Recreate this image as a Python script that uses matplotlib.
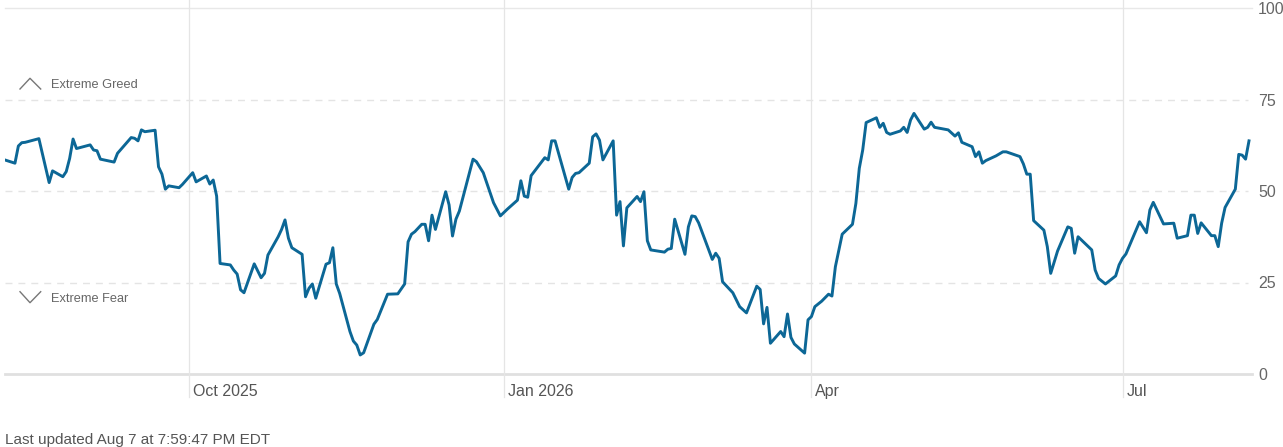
import numpy as np
import matplotlib.pyplot as plt
import matplotlib.dates as mdates
import matplotlib.transforms as mtransforms
from matplotlib.lines import Line2D
import datetime as dt

plt.rcParams['font.family'] = ['Liberation Sans', 'DejaVu Sans']

# Fear & Greed index (trading days, approx.)
dates = [
    '2025-08-08', '2025-08-11', '2025-08-12', '2025-08-13', '2025-08-14', '2025-08-18',
    '2025-08-21', '2025-08-22', '2025-08-25', '2025-08-26', '2025-08-27', '2025-08-28',
    '2025-08-29', '2025-09-02', '2025-09-03', '2025-09-04', '2025-09-05', '2025-09-09',
    '2025-09-10', '2025-09-14', '2025-09-15', '2025-09-16', '2025-09-17', '2025-09-18',
    '2025-09-21', '2025-09-22', '2025-09-23', '2025-09-24', '2025-09-25', '2025-09-28',
    '2025-09-29', '2025-10-02', '2025-10-03', '2025-10-06', '2025-10-07', '2025-10-08',
    '2025-10-09', '2025-10-10', '2025-10-13', '2025-10-14', '2025-10-15', '2025-10-16',
    '2025-10-17', '2025-10-20', '2025-10-22', '2025-10-23', '2025-10-24', '2025-10-27',
    '2025-10-28', '2025-10-29', '2025-10-30', '2025-10-31', '2025-11-03', '2025-11-04',
    '2025-11-05', '2025-11-06', '2025-11-07', '2025-11-10', '2025-11-11', '2025-11-12',
    '2025-11-13', '2025-11-14', '2025-11-17', '2025-11-18', '2025-11-19', '2025-11-20',
    '2025-11-21', '2025-11-24', '2025-11-25', '2025-11-28', '2025-12-01', '2025-12-03',
    '2025-12-04', '2025-12-05', '2025-12-06', '2025-12-08', '2025-12-09', '2025-12-10',
    '2025-12-11', '2025-12-12', '2025-12-15', '2025-12-16', '2025-12-17', '2025-12-18',
    '2025-12-19', '2025-12-23', '2025-12-24', '2025-12-26', '2025-12-29', '2025-12-31',
    '2026-01-02', '2026-01-05', '2026-01-06', '2026-01-07', '2026-01-08', '2026-01-09',
    '2026-01-13', '2026-01-14', '2026-01-15', '2026-01-16', '2026-01-20', '2026-01-21',
    '2026-01-22', '2026-01-23', '2026-01-26', '2026-01-27', '2026-01-28', '2026-01-29',
    '2026-01-30', '2026-02-02', '2026-02-03', '2026-02-04', '2026-02-05', '2026-02-06',
    '2026-02-09', '2026-02-10', '2026-02-11', '2026-02-12', '2026-02-13', '2026-02-17',
    '2026-02-18', '2026-02-19', '2026-02-20', '2026-02-23', '2026-02-24', '2026-02-25',
    '2026-02-26', '2026-02-27', '2026-03-03', '2026-03-04', '2026-03-05', '2026-03-06',
    '2026-03-09', '2026-03-11', '2026-03-13', '2026-03-16', '2026-03-17', '2026-03-18',
    '2026-03-19', '2026-03-20', '2026-03-23', '2026-03-24', '2026-03-25', '2026-03-26',
    '2026-03-27', '2026-03-30', '2026-03-31', '2026-04-01', '2026-04-02', '2026-04-04',
    '2026-04-06', '2026-04-07', '2026-04-08', '2026-04-10', '2026-04-13', '2026-04-14',
    '2026-04-15', '2026-04-16', '2026-04-17', '2026-04-20', '2026-04-21', '2026-04-22',
    '2026-04-23', '2026-04-24', '2026-04-27', '2026-04-28', '2026-04-29', '2026-04-30',
    '2026-05-01', '2026-05-04', '2026-05-05', '2026-05-06', '2026-05-07', '2026-05-11',
    '2026-05-13', '2026-05-14', '2026-05-15', '2026-05-18', '2026-05-19', '2026-05-20',
    '2026-05-21', '2026-05-22', '2026-05-25', '2026-05-27', '2026-05-28', '2026-06-01',
    '2026-06-02', '2026-06-03', '2026-06-04', '2026-06-05', '2026-06-08', '2026-06-09',
    '2026-06-10', '2026-06-12', '2026-06-15', '2026-06-16', '2026-06-17', '2026-06-18',
    '2026-06-22', '2026-06-23', '2026-06-24', '2026-06-26', '2026-06-29', '2026-06-30',
    '2026-07-01', '2026-07-02', '2026-07-06', '2026-07-08', '2026-07-09', '2026-07-10',
    '2026-07-13', '2026-07-16', '2026-07-17', '2026-07-20', '2026-07-21', '2026-07-22',
    '2026-07-23', '2026-07-24', '2026-07-27', '2026-07-28', '2026-07-29', '2026-07-30',
    '2026-07-31', '2026-08-03', '2026-08-04', '2026-08-05', '2026-08-06', '2026-08-07',
]
values = [
    58.5, 57.6, 62.3, 63.2, 63.3, 64.3,
    52.3, 55.5, 53.9, 55.3, 58.9, 64.2,
    61.6, 62.6, 61.2, 61.0, 58.7, 57.9,
    60.3, 64.6, 64.4, 63.7, 66.7, 66.2,
    66.6, 56.6, 54.6, 50.5, 51.4, 50.9,
    51.8, 55.0, 52.5, 54.1, 51.9, 53.0,
    48.6, 30.2, 29.8, 28.4, 27.3, 23.0,
    22.2, 30.1, 26.3, 27.5, 32.5, 37.5,
    39.5, 42.1, 37.1, 34.5, 32.7, 21.1,
    23.4, 24.6, 20.7, 30.0, 30.4, 34.5,
    24.6, 22.0, 11.6, 9.0, 7.9, 5.2,
    5.8, 13.6, 14.9, 21.8, 21.9, 24.6,
    36.1, 38.2, 38.9, 40.9, 40.9, 36.4,
    43.4, 39.5, 49.8, 46.2, 37.7, 42.3,
    44.5, 58.7, 58.0, 55.0, 46.8, 43.2,
    45.0, 47.5, 52.8, 48.6, 48.3, 54.2,
    59.1, 58.5, 63.7, 63.7, 50.5, 53.7,
    54.8, 55.0, 57.6, 64.8, 65.6, 63.9,
    58.5, 63.7, 43.4, 47.1, 35.0, 45.4,
    48.5, 47.1, 49.8, 36.4, 33.9, 33.3,
    34.1, 34.3, 42.3, 32.7, 40.2, 43.2,
    43.0, 41.3, 31.3, 33.0, 31.6, 25.2,
    22.2, 18.4, 16.7, 24.0, 23.1, 13.7,
    18.2, 8.4, 11.6, 10.2, 16.4, 10.0,
    8.2, 5.7, 14.8, 15.7, 18.4, 19.9,
    21.8, 21.3, 29.3, 38.2, 40.9, 46.6,
    56.2, 61.2, 68.7, 70.0, 67.4, 68.5,
    66.0, 65.5, 66.4, 67.4, 66.0, 69.4,
    71.2, 66.9, 67.4, 68.8, 67.4, 66.7,
    65.0, 65.9, 63.3, 62.1, 59.4, 60.7,
    57.6, 58.3, 59.6, 60.7, 60.7, 59.4,
    57.4, 54.6, 54.6, 41.9, 39.3, 34.8,
    27.5, 33.6, 40.2, 39.8, 33.0, 37.5,
    33.9, 28.4, 26.1, 24.6, 26.8, 29.8,
    31.6, 32.8, 41.6, 38.6, 44.8, 46.9,
    41.0, 41.2, 37.1, 37.8, 43.4, 43.4,
    38.4, 41.3, 37.8, 37.8, 34.8, 41.2,
    45.5, 50.5, 60.0, 59.8, 58.7, 63.7,
]

month_ticks = ['2025-10-01', '2026-01-01', '2026-04-01', '2026-07-01']
month_labels = ['Oct 2025', 'Jan 2026', 'Apr', 'Jul']
y_ticks = [0, 25, 50, 75, 100]

x = [dt.datetime.strptime(d, '%Y-%m-%d') for d in dates]
xt = [dt.datetime.strptime(d, '%Y-%m-%d') for d in month_ticks]

W, H = 1283, 447
fig = plt.figure(figsize=(W / 100, H / 100), dpi=100)
ax = fig.add_axes([4.7 / W, (H - 374) / H, (1251.7 - 4.7) / W, 366 / H])

grey_txt = '#666666'

# horizontal guides
for v in [25, 50, 75]:
    ax.axhline(v, xmax=0.997, color='#e4e4e4', lw=1.0, dashes=(5, 4.3), zorder=1)
ax.axhline(100, color='#e8e8e8', lw=1.0, zorder=1, clip_on=False)
ax.axhline(0, color='#e0e0e0', lw=2.0, zorder=1, clip_on=False)

# month lines, running down through the label band
for t in xt:
    ax.axvline(t, ymin=-0.063, ymax=1.022, color='#e5e5e5', lw=0.9, zorder=1, clip_on=False)

ax.plot(x, values, color='#0c6796', lw=2.1, solid_joinstyle='round', zorder=3)

ax.set_xlim(dt.datetime(2025, 8, 8), dt.datetime(2026, 8, 7, 19))
ax.set_ylim(0, 100)

for s in ax.spines.values():
    s.set_visible(False)

ax.set_xticks([])
ax.yaxis.tick_right()
ax.set_yticks(y_ticks)
ax.set_yticklabels([str(v) for v in y_ticks])
ax.tick_params(axis='y', length=0, pad=4.5, labelsize=11.5, labelcolor=grey_txt)
for lab in ax.get_yticklabels():
    lab.set_horizontalalignment('left')

off = mtransforms.offset_copy(ax.get_xaxis_transform(), fig=fig, x=4, y=0, units='dots')
for t, lab in zip(xt, month_labels):
    ax.text(t, -0.049, lab, transform=off, ha='left', va='center',
            fontsize=11.5, color='#555555')

# zone markers on the left
def fx(px):
    return px / W


def fy(py):
    return 1 - py / H


fig.add_artist(Line2D([fx(20), fx(30), fx(40.7)], [fy(89), fy(78.3), fy(89)],
                      color='#777777', lw=1.0, transform=fig.transFigure))
fig.add_artist(Line2D([fx(20), fx(30), fx(40.7)], [fy(291.7), fy(302.7), fy(291.7)],
                      color='#777777', lw=1.0, transform=fig.transFigure))
fig.text(fx(51), fy(85.5), 'Extreme Greed', ha='left', va='center', fontsize=9.2, color=grey_txt)
fig.text(fx(51), fy(299), 'Extreme Fear', ha='left', va='center', fontsize=9.2, color=grey_txt)

fig.text(fx(5), fy(440), 'Last updated Aug 7 at 7:59:47 PM EDT', ha='left', va='center',
         fontsize=11, color='#555555')

fig.savefig('out.png', dpi=100)
